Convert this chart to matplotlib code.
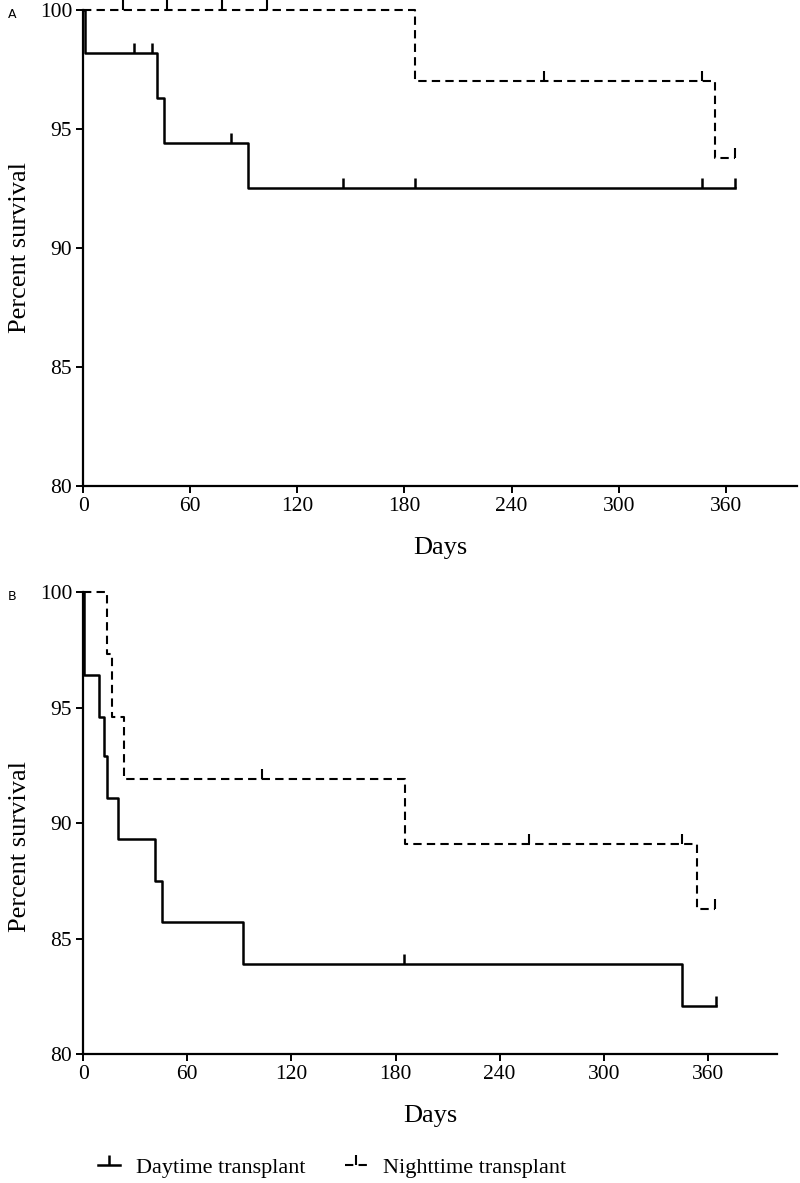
import matplotlib
matplotlib.use("Agg")
import matplotlib.pyplot as plt
from matplotlib.lines import Line2D
from matplotlib.markers import TICKUP

plt.rcParams['font.family'] = ['Liberation Serif', 'DejaVu Serif']

#### Data ####
# Panel A
a_day_t = [0, 1, 41.4, 45.4, 92.4, 365]
a_day_s = [100, 98.2, 96.3, 94.4, 92.5, 92.5]
a_day_cens_t = [28.5, 38.6, 83, 145.6, 186, 346.6, 365]
a_day_cens_s = [98.2, 98.2, 94.4, 92.5, 92.5, 92.5, 92.5]

a_night_t = [0, 186, 354, 365]
a_night_s = [100, 97.0, 93.8, 93.8]
a_night_cens_t = [22.4, 47, 77.8, 103, 258, 346.5, 365]
a_night_cens_s = [100, 100, 100, 100, 97.0, 97.0, 93.8]

# Panel B
b_day_t = [0, 0.5, 9.2, 12.1, 13.8, 20.1, 41.4, 45.5, 92, 345, 365]
b_day_s = [100, 96.4, 94.6, 92.9, 91.1, 89.3, 87.5, 85.7, 83.9, 82.1, 82.1]
b_day_cens_t = [185, 365]
b_day_cens_s = [83.9, 82.1]

b_night_t = [0, 13.8, 16.7, 23.6, 185.3, 353.5, 364]
b_night_s = [100, 97.3, 94.6, 91.9, 89.1, 86.3, 86.3]
b_night_cens_t = [103, 257, 345, 364]
b_night_cens_s = [91.9, 89.1, 89.1, 86.3]

x_ticks = [0, 60, 120, 180, 240, 300, 360]
y_ticks = [80, 85, 90, 95, 100]

solid_kw = dict(color='k', lw=1.8)
dash_kw = dict(color='k', lw=1.5, linestyle=(0, (4, 2.5)))


def km_panel(ax, day, night, xmax):
    (dt, ds, dct, dcs) = day
    (nt, ns, nct, ncs) = night
    ax.step(nt, ns, where='post', **dash_kw)
    ax.plot(nct, ncs, linestyle='none', marker=TICKUP, ms=7, mew=1.5, color='k')
    ax.step(dt, ds, where='post', **solid_kw)
    ax.plot(dct, dcs, linestyle='none', marker=TICKUP, ms=7, mew=1.8, color='k')
    ax.set_xlim(0, xmax)
    ax.set_ylim(80, 100)
    ax.set_xticks(x_ticks)
    ax.set_yticks(y_ticks)
    for s in ['top', 'right']:
        ax.spines[s].set_visible(False)
    for s in ['left', 'bottom']:
        ax.spines[s].set_linewidth(1.6)
    ax.tick_params(direction='out', length=5, width=1.4, labelsize=15.5, pad=3)
    ax.set_xlabel('Days', fontsize=19, labelpad=15)
    ax.set_ylabel('Percent survival', fontsize=19)
    for l in ax.get_lines():
        l.set_clip_on(False)


fig = plt.figure(figsize=(8, 11.83), dpi=100)
axA = fig.add_axes([0.104, 0.5892, 0.8925, 0.4024])
axB = fig.add_axes([0.104, 0.109, 0.8675, 0.3905])

km_panel(axA, (a_day_t, a_day_s, a_day_cens_t, a_day_cens_s),
         (a_night_t, a_night_s, a_night_cens_t, a_night_cens_s), 400)
km_panel(axB, (b_day_t, b_day_s, b_day_cens_t, b_day_cens_s),
         (b_night_t, b_night_s, b_night_cens_t, b_night_cens_s), 400)
axA.yaxis.set_label_coords(-52 / 714, 0.5)
axB.yaxis.set_label_coords(-52 / 694, 0.45)

fig.text(12.5 / 800, 1 - 14 / 1183, 'A', family='DejaVu Sans', fontsize=9, ha='center', va='center')
fig.text(12.5 / 800, 1 - 596 / 1183, 'B', family='DejaVu Sans', fontsize=9, ha='center', va='center')

handles = [Line2D([], [], marker=TICKUP, ms=7, mew=1.8, markevery=[1], **solid_kw),
           Line2D([], [], marker=TICKUP, ms=7, mew=1.5, markevery=[1], **dash_kw)]
handles[0].set_data([0, 0.5, 1], [0, 0, 0])
handles[1].set_data([0, 0.5, 1], [0, 0, 0])
fig.legend(handles, ['Daytime transplant', 'Nighttime transplant'],
           loc='center', bbox_to_anchor=(0.415, 0.013), ncol=2, frameon=False,
           fontsize=16, handlelength=1.0, columnspacing=1.8, handletextpad=0.7)

fig.savefig('out.png', dpi=100)
